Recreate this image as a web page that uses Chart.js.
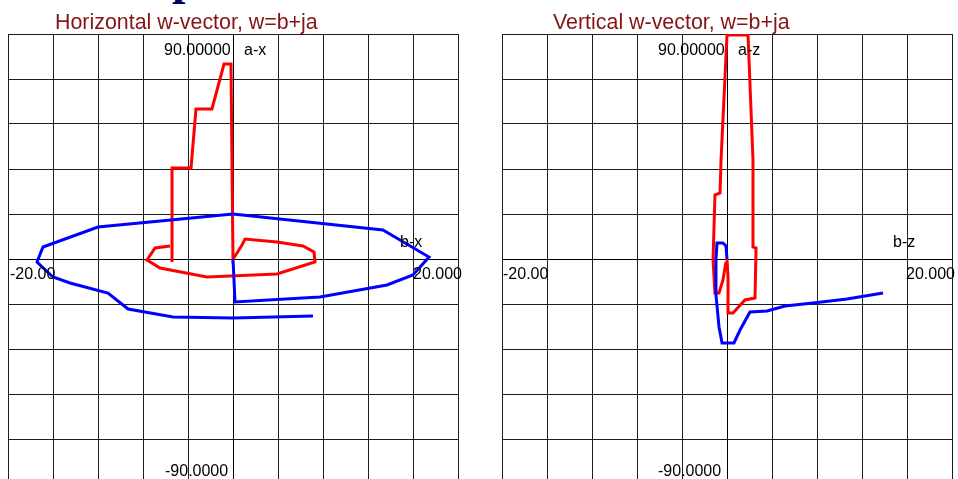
<!DOCTYPE html>
<html lang="en">
<head>
    <meta charset="UTF-8">
    <title>w-vector</title>
    <style>
        body, html {
            margin: 0;
            padding: 0;
            width: 958px;
            height: 479px;
            overflow: hidden;
            background: #fff;
            font-family: "Liberation Sans", Arial, sans-serif;
        }
        canvas { position: absolute; top: 0; }
        #left { left: 0; }
        #right { left: 494px; }
        .t {
            position: absolute;
            white-space: nowrap;
            font-size: 16px;
            line-height: 16px;
            color: #000;
        }
        .title {
            position: absolute;
            white-space: nowrap;
            font-size: 21.4px;
            line-height: 21px;
            color: #861414;
        }
        .cut {
            position: absolute;
            left: 172px;
            top: -46px;
            font-family: "Liberation Serif", serif;
            font-weight: bold;
            font-size: 48px;
            line-height: 48px;
            color: #000066;
        }
    </style>
</head>
<body>

<div class="cut">p</div>

<canvas id="left" width="470" height="490"></canvas>
<canvas id="right" width="470" height="490"></canvas>

<div class="title" style="left:55px; top:12px;">Horizontal w-vector, w=b+ja</div>
<div class="title" style="left:553px; top:12px;">Vertical w-vector, w=b+ja</div>

<!-- axis labels, left -->
<div class="t" style="left:164px; top:42px;">90.00000</div>
<div class="t" style="left:244px; top:42px;">a-x</div>
<div class="t" style="left:400px; top:234px;">b-x</div>
<div class="t" style="left:10px; top:266px;">-20.00</div>
<div class="t" style="left:413px; top:266px;">20.000</div>
<div class="t" style="left:165px; top:463px;">-90.0000</div>

<!-- axis labels, right -->
<div class="t" style="left:658px; top:42px;">90.00000</div>
<div class="t" style="left:738px; top:42px;">a-z</div>
<div class="t" style="left:893px; top:234px;">b-z</div>
<div class="t" style="left:503px; top:266px;">-20.00</div>
<div class="t" style="left:906px; top:266px;">20.000</div>
<div class="t" style="left:658px; top:463px;">-90.0000</div>

<script src="https://cdn.jsdelivr.net/npm/chart.js"></script>
<script type="text/javascript">
    // horizontal w-vector (b-x, a-x)
    var hRedB  = [-5.42, -5.42, -3.73, -3.29, -1.87, -0.8, -0.18, 0, 0.36, 0.8, 1.07, 3.91, 6.22, 7.2, 7.29, 3.91, -2.31, -6.49, -7.64, -6.93, -5.6];
    var hRedA  = [-1.2, 36.4, 36.4, 60, 60, 78, 78, 0, 2.4, 5.6, 8, 6.8, 5.2, 2.8, -1.2, -6, -7.2, -3.6, -0.4, 4.4, 5.2];
    var hBlueB = [0, 0.18, 7.73, 13.69, 16, 17.42, 13.33, 0, -12, -16.89, -17.42, -16, -14.49, -11.11, -9.33, -5.33, 0, 7.11];
    var hBlueA = [0, -17.2, -15.2, -10.4, -6.4, 0.8, 11.6, 18, 12.8, 4.8, -1.2, -7.2, -9.6, -13.6, -20, -23.2, -23.6, -22.8];

    // vertical w-vector (b-z, a-z)
    var vRedB  = [0, 0.09, 0.09, 0.53, 1.6, 2.49, 2.58, 2.31, 2.31, 1.87, 0, -0.53, -0.62, -1.07, -1.24, -1.07, -0.71, -0.36, -0.09];
    var vRedA  = [0, -7.2, -21.6, -21.6, -16.4, -15.6, 4.4, 4.8, 39.6, 89.6, 89.6, 39.6, 26.4, 25.6, -0.4, -13.6, -13.6, -8.4, -1.2];
    var vBlueB = [0, -0.09, -0.36, -0.89, -0.98, -0.98, -0.71, -0.44, 0.62, 1.16, 2.04, 3.56, 5.16, 7.64, 10.67, 13.87];
    var vBlueA = [0, 5.2, 6.4, 6.4, -0.4, -14.4, -27.2, -33.6, -33.6, -28.4, -21.2, -20.8, -18.8, -17.6, -16, -13.6];

    var bMin = -20, bMax = 20, bStep = 4;
    var aMin = -90, aMax = 90, aStep = 18;

    function pts(bs, as) {
        return bs.map(function(b, i) { return {x: b, y: as[i]}; });
    }

    function gridColor(ctx) {
        return ctx.tick && ctx.tick.value === 0 ? '#000' : '#1e1e1e';
    }

    function makeChart(id, redB, redA, blueB, blueA) {
        var ctx = document.getElementById(id).getContext('2d');
        return new Chart(ctx, {
            type: 'scatter',
            data: {
                datasets: [
                    { data: pts(blueB, blueA), showLine: true, borderColor: '#0000ff', borderWidth: 3, pointRadius: 0, tension: 0 },
                    { data: pts(redB, redA), showLine: true, borderColor: '#ff0000', borderWidth: 3, pointRadius: 0, tension: 0 }
                ]
            },
            options: {
                responsive: false,
                animation: false,
                devicePixelRatio: 1,
                layout: { padding: { left: 8, top: 34, right: 12, bottom: 6 } },
                plugins: { legend: { display: false }, tooltip: { enabled: false } },
                scales: {
                    x: {
                        type: 'linear', min: bMin, max: bMax,
                        ticks: { stepSize: bStep, display: false },
                        grid: { color: gridColor, lineWidth: 1, drawTicks: false },
                        border: { display: false },
                        afterFit: function(s) { s.height = 0; }
                    },
                    y: {
                        type: 'linear', min: aMin, max: aMax,
                        ticks: { stepSize: aStep, display: false },
                        grid: { color: gridColor, lineWidth: 1, drawTicks: false },
                        border: { display: false },
                        afterFit: function(s) { s.width = 0; }
                    }
                }
            }
        });
    }

    makeChart('left', hRedB, hRedA, hBlueB, hBlueA);
    makeChart('right', vRedB, vRedA, vBlueB, vBlueA);
</script>
</body>
</html>
